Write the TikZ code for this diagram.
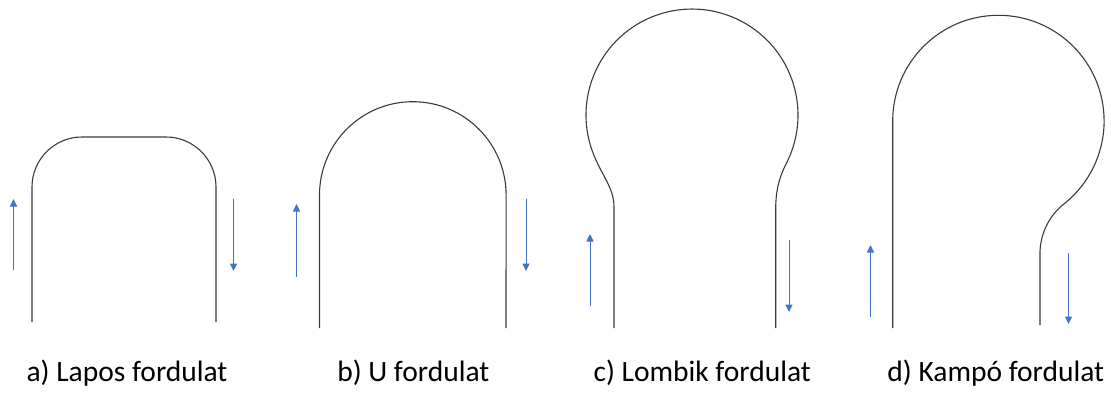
\documentclass[tikz,border=0pt]{standalone}
\usepackage{fontspec}
\setmainfont{Carlito}
\usetikzlibrary{arrows.meta}
\definecolor{arrowblue}{HTML}{4472C4}
\definecolor{curvegray}{HTML}{3A3A3A}
\tikzset{
  turn/.style={draw=curvegray, line width=1.1pt},
  dirarrow/.style={draw=arrowblue, line width=1pt, -{Triangle[width=7pt,length=7.5pt]}},
  caption/.style={anchor=base, inner sep=0pt, font=\fontsize{29.5}{34}\selectfont, text=black}
}
\begin{document}
\begin{tikzpicture}[x=1pt,y=-1pt]
\useasboundingbox (0,0) rectangle (1111,392);
% a) Lapos fordulat
\draw[turn] (32,322) -- (32,187) arc[start angle=180,end angle=270,radius=50] -- (166,137) arc[start angle=270,end angle=360,radius=50] -- (216,322);
\draw[dirarrow] (13.5,270) -- (13.5,199);
\draw[dirarrow] (233.5,199) -- (233.5,271);
% b) U fordulat
\draw[turn] (319.5,328) -- (319.5,195) arc[start angle=180,end angle=360,radius=93.3] -- (506,328);
\draw[dirarrow] (296.5,277) -- (296.5,204);
\draw[dirarrow] (526,199) -- (526,271);
% c) Lombik fordulat
\draw[turn] (614,328) -- (614,207) .. controls (614,187) and (601,175) .. (592.4,151.3)
  arc[start angle=160,end angle=387,radius=106]
  .. controls (777.3,180.9) and (775.7,195) .. (775.7,210) -- (775.7,328);
\draw[dirarrow] (590,306) -- (590,234);
\draw[dirarrow] (789,240) -- (789,312);
% d) Kampo fordulat
\draw[turn] (892.7,328) -- (892.7,121) arc[start angle=180,end angle=411.6,radius=105.7]
  arc[start angle=231.6,end angle=180,radius=63.6] -- (1040,325);
\draw[dirarrow] (870.5,317) -- (870.5,245);
\draw[dirarrow] (1068.5,253) -- (1068.5,324);
% captions
\node[caption] (la) at (127,381) {a) Lapos fordulat};
\node[caption] (lb) at (413.3,381) {b) U fordulat};
\node[caption] (lc) at (702.2,381) {c) Lombik fordulat};
\node[caption] (ld) at (995.8,381) {d) Kampó fordulat};
\end{tikzpicture}
\end{document}
